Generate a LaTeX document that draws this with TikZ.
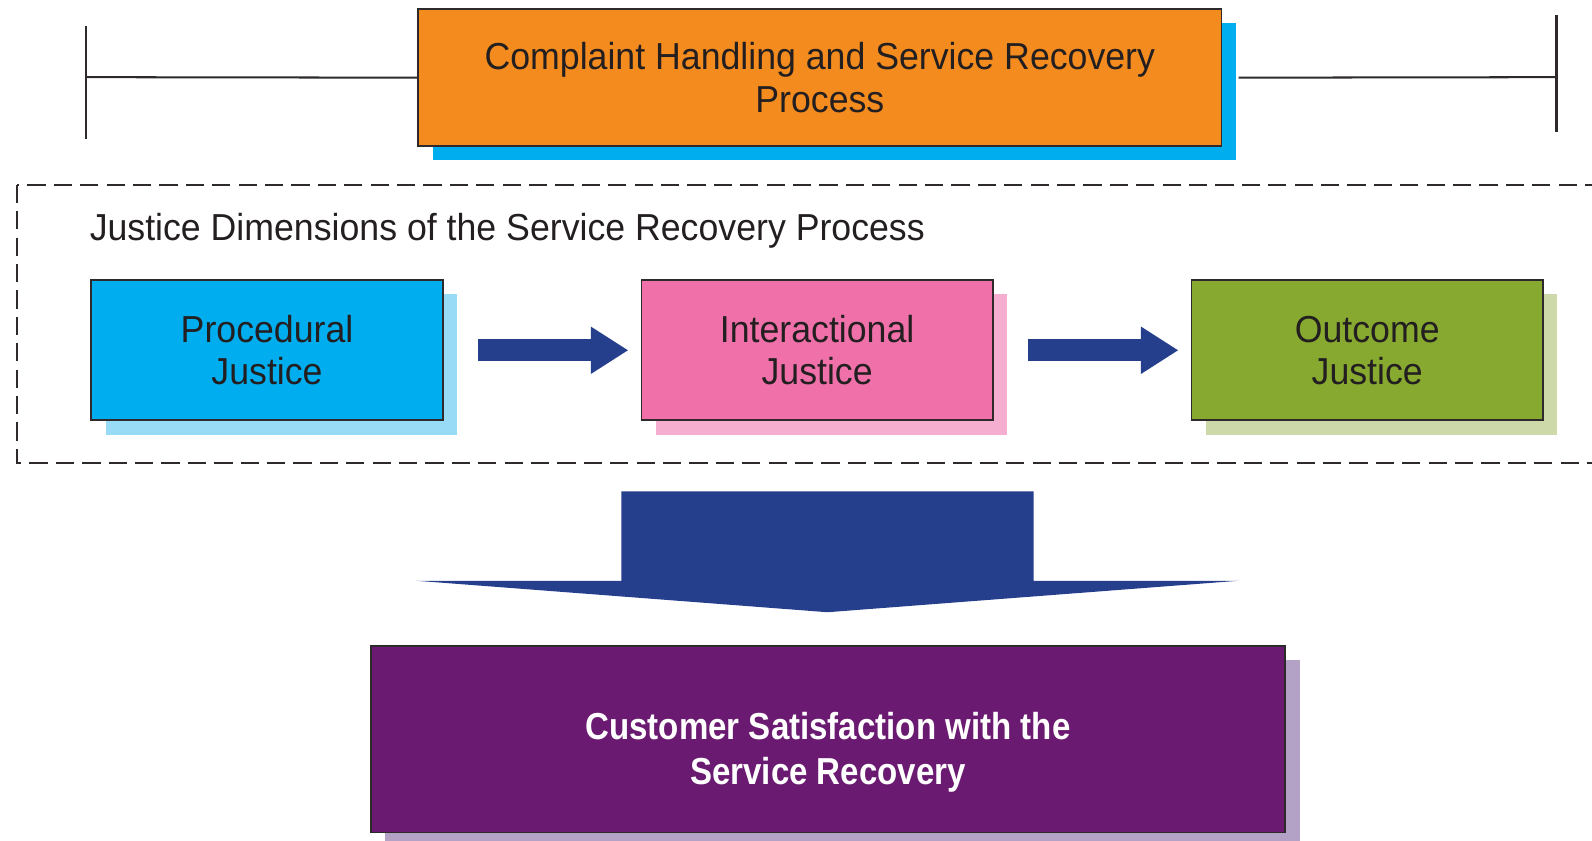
\documentclass[tikz,border=0pt]{standalone}
\usepackage{fontspec}
\setmainfont{Liberation Sans}[FakeStretch=0.95, BoldFeatures={FakeStretch=0.88}]
\usepackage{tikz}
\usetikzlibrary{arrows.meta, positioning, shadows}
\definecolor{txt}{HTML}{231F20}
\definecolor{boxline}{HTML}{2E2A2B}
\definecolor{orng}{HTML}{F48B1F}
\definecolor{blaa}{HTML}{00AEEF}
\definecolor{blaalys}{HTML}{97DBF7}
\definecolor{rosa}{HTML}{F070A9}
\definecolor{rosalys}{HTML}{F5AECF}
\definecolor{groen}{HTML}{87A92F}
\definecolor{groenlys}{HTML}{CDD9A8}
\definecolor{navy}{HTML}{263F8D}
\definecolor{lilla}{HTML}{6B1A71}
\definecolor{lillalys}{HTML}{B3A1C6}

\begin{document}
\begin{tikzpicture}[
    x=0.5pt, y=-0.5pt,
    node distance = 5mm and 97pt,
    punkt/.style = {rectangle, draw=boxline, line width=0.9pt, text=txt, align=center,
                    minimum width=173pt, minimum height=69pt,
                    font=\fontsize{18.5}{20.5}\selectfont},
    skygge/.style = {drop shadow={fill=#1, opacity=1, shadow xshift=7pt, shadow yshift=-7pt}},
    pil/.style = {navy, line width=11pt, -{Triangle[width=22pt,length=18.5pt]},
                  shorten <=17pt, shorten >=6pt},
    strek/.style = {boxline, line width=1pt}
    ]
  \useasboundingbox (0,0) rectangle (1568,828);

  % top bar
  \node[punkt,skygge=blaa,fill=orng,minimum width=395.5pt,minimum height=67.5pt,
        font=\fontsize{18.5}{21.5}\selectfont] (chp) at (807.5,76.5)
        {Complaint Handling and Service Recovery\\Process} ;
  \coordinate (lend) at (85,76) ;
  \coordinate (rend) at (1533,76) ;
  \draw[strek] (lend) -- (chp.west) ;
  \draw[strek] ([xshift=8pt]chp.east) -- (rend) ;
  \draw[strek] (lend) ++(0,-50) -- ++(0,111) ;
  \draw[strek] (rend) ++(0,-61) -- ++(0,115) ;

  % justice dimensions
  \draw[boxline, line width=1pt, dash pattern=on 9pt off 4pt] (17,182) rectangle (1590,456) ;
  \node[anchor=west, inner sep=0, text=txt, font=\fontsize{18.5}{20.5}\selectfont]
        (dimtitle) at (88,227) {Justice Dimensions of the Service Recovery Process} ;

  \node[punkt,skygge=blaalys,fill=blaa] (proc) at (263,345) {Procedural\\Justice} ;
  \node[punkt,skygge=rosalys,fill=rosa] (inter) [right=of proc] {Interactional\\Justice} ;
  \node[punkt,skygge=groenlys,fill=groen] (outc) [right=of inter] {Outcome\\Justice} ;

  \draw[pil] (proc.east) -- (inter.west) ;
  \draw[pil] (inter.east) -- (outc.west) ;

  % big arrow down
  \fill[navy] (612,484) -- (1018,484) -- (1018,572) -- (1220,572) -- (815,603)
    -- (410,572) -- (612,572) -- cycle ;

  \node[punkt,skygge=lillalys,fill=lilla,minimum width=450.5pt,minimum height=92pt,
        label={[align=center,text=white,yshift=-6.5pt,font=\fontsize{18.5}{22.5}\selectfont\bfseries]center:Customer Satisfaction with the\\Service Recovery}]
        (sat) at (815.5,728) {} ;

\end{tikzpicture}
\end{document}
